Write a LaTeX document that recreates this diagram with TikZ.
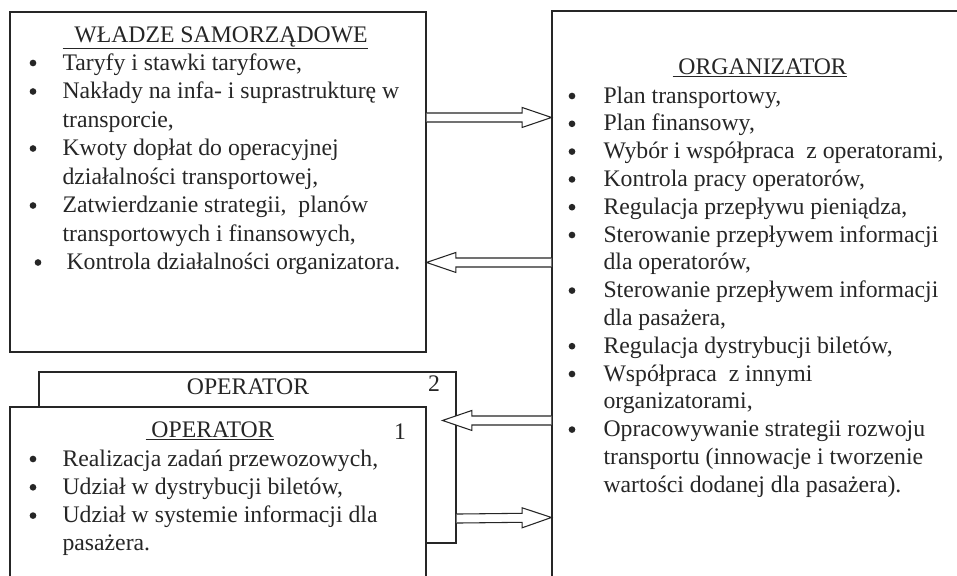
\documentclass[tikz,border=0pt]{standalone}
\usepackage{fontspec}
\setmainfont{Liberation Serif}
\usetikzlibrary{calc}
\definecolor{ink}{HTML}{262626}

% open double-line arrow from #1 to #2 (horizontal)
\newcommand{\flowarrow}[2]{%
  \coordinate (hb) at ($(#2)!22pt!(#1)$);
  \filldraw[arrowline]
    ($(#1)+(0,-4.5)$) -- ($(hb)+(0,-4.5)$) -- ($(hb)+(0,-10)$) -- (#2)
    -- ($(hb)+(0,10)$) -- ($(hb)+(0,4.5)$) -- ($(#1)+(0,4.5)$);
}

\begin{document}
\begin{tikzpicture}[
    x=0.75pt, y=-0.75pt,
    line width=0.8pt,
    every node/.style={font=\fontsize{17.8pt}{20pt}\selectfont, text=ink, inner sep=0pt},
    box/.style={draw=ink, fill=white, rectangle, line width=0.8pt},
    arrowline/.style={draw=ink, fill=white, line width=0.8pt, line join=miter},
    itemtext/.style={anchor=base west},
    numtext/.style={anchor=base},
    bulletmark/.style={circle, fill=ink, minimum size=5pt},
  ]
  \useasboundingbox (0,0) rectangle (957,575);
  \clip (0,0) rectangle (957,575);

  % ---------- Boxes (pixel coordinates, y down) ---------------------------
  % WLADZE: (10,12) -> (426,352)
  \node[box, minimum width=312pt, minimum height=255pt] (wladze) at (218,182) {};
  % ORGANIZATOR: (552,11) -> runs off the page
  \node[box, minimum width=336pt, minimum height=456.75pt] (org) at (776,315.5) {};
  % OPERATOR 2 (behind): (39,372) -> (456,543)
  \node[box, minimum width=312.75pt, minimum height=128.25pt] (op2) at (247.5,457.5) {};
  % OPERATOR 1 (front): (10,407) -> runs off the page
  \node[box, minimum width=312pt, minimum height=144.75pt] (op1) at (218,503.5) {};

  % ---------- Arrows ------------------------------------------------------
  \coordinate (a1s) at ($(wladze.north east)+(0,106)$);
  \coordinate (a1e) at ($(org.north west)+(0,107)$);
  \coordinate (a2s) at ($(org.north west)+(0,252)$);
  \coordinate (a2e) at ($(wladze.north east)+(0,251)$);
  \coordinate (a3s) at ($(org.north west)+(0,410)$);
  \coordinate (a3e) at ($(op1.north east)+(16,14)$);
  \coordinate (a4s) at ($(op2.south east)+(0,-25)$);
  \coordinate (a4e) at ($(org.north west)+(0,507)$);
  \flowarrow{a1s}{a1e}
  \flowarrow{a2s}{a2e}
  \flowarrow{a3s}{a3e}
  \flowarrow{a4s}{a4e}

  % ---------- WLADZE SAMORZADOWE -------------------------------------------
  \node[itemtext] (wl-title) at (62,42) {\underline{\ \ WŁADZE SAMORZĄDOWE}};
  \foreach \txt [count=\i from 0] in {
      {Taryfy i stawki taryfowe,},
      {Nakłady na infa- i suprastrukturę w},
      {transporcie,},
      {Kwoty dopłat do operacyjnej},
      {działalności transportowej,},
      {Zatwierdzanie strategii, \ planów},
      {transportowych i finansowych,}}
    \node[itemtext] (wl-\i) at (62,{70+28.5*\i}) {\txt};
  \foreach \i in {0,1,3,5}
    \node[bulletmark] (wl-b\i) at (33,{63+28.5*\i}) {};
  \node[itemtext] (wl-7) at (66,269.5) {Kontrola działalności organizatora.};
  \node[bulletmark] (wl-b7) at (38,262.5) {};

  % ---------- ORGANIZATOR -------------------------------------------------
  \node[itemtext] (org-title) at (672,74) {\underline{\ ORGANIZATOR}};
  \foreach \txt [count=\i from 0] in {
      {Plan transportowy,},
      {Plan finansowy,},
      {Wybór i współpraca \ z operatorami,},
      {Kontrola pracy operatorów,},
      {Regulacja przepływu pieniądza,},
      {Sterowanie przepływem informacji},
      {dla operatorów,},
      {Sterowanie przepływem informacji},
      {dla pasażera,},
      {Regulacja dystrybucji biletów,},
      {Współpraca \ z innymi},
      {organizatorami,},
      {Opracowywanie strategii rozwoju},
      {transportu (innowacje i tworzenie},
      {wartości dodanej dla pasażera).}}
    \node[itemtext] (org-\i) at (603,{103+27.8*\i}) {\txt};
  \foreach \i in {0,1,2,3,4,5,7,9,10,12}
    \node[bulletmark] (org-b\i) at (572,{96+27.8*\i}) {};

  % ---------- OPERATOR 2 / OPERATOR 1 -------------------------------------
  \node[numtext] (op2-title) at (248,394) {OPERATOR};
  \node[numtext] (op2-num) at (434,391) {2};
  \node[itemtext] (op1-title) at (145,437) {\underline{\ OPERATOR}};
  \node[numtext] (op1-num) at (400,439) {1};
  \foreach \txt [count=\i from 0] in {
      {Realizacja zadań przewozowych,},
      {Udział w dystrybucji biletów,},
      {Udział w systemie informacji dla},
      {pasażera.}}
    \node[itemtext] (op1-\i) at (62,{466+28.3*\i}) {\txt};
  \foreach \i in {0,1,2}
    \node[bulletmark] (op1-b\i) at (33,{459+28.3*\i}) {};

\end{tikzpicture}
\end{document}
